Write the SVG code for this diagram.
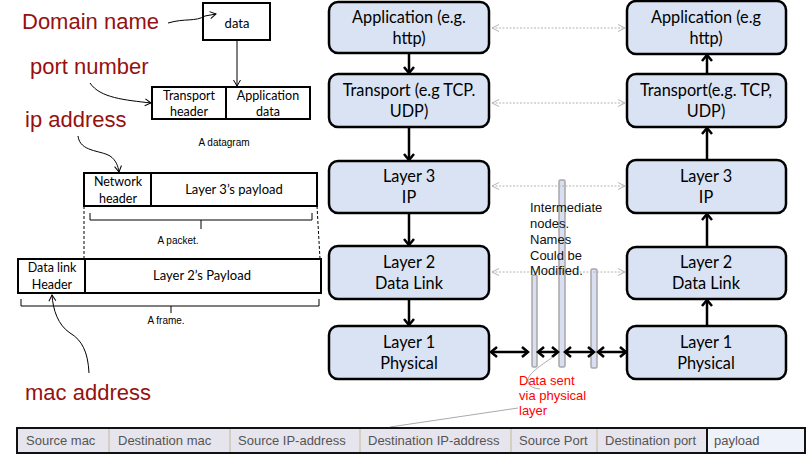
<svg xmlns="http://www.w3.org/2000/svg" width="811" height="472" viewBox="0 0 811 472">
<style>
.lbl{font-family:"Liberation Sans",Arial,sans-serif;font-size:22px;fill:#961010}
.cal{font-family:Lato,"Open Sans",sans-serif;fill:#000}
.st{font-size:16.3px;text-anchor:middle}
.sm{font-size:12.5px;text-anchor:middle}
.tiny{font-family:"Liberation Sans",Arial,sans-serif;font-size:10px;text-anchor:middle;fill:#000}
.box{fill:#dae3f3;stroke:#000;stroke-width:2.5}
.wb{fill:#fff;stroke:#000;stroke-width:2}
.thin{fill:none;stroke:#000;stroke-width:1}
.bar{fill:#d9dff0;stroke:#a8a8a8;stroke-width:1.5}
.cell{fill:#e6e4ec;stroke:#c8b898;stroke-width:1}
.ct{font-family:"Liberation Sans",Arial,sans-serif;font-size:13px;fill:#555}
.flow{stroke:#000;stroke-width:2.5;fill:none}
.peer{stroke:#b4b4b4;stroke-width:1;stroke-dasharray:2 1.5;fill:none}
.note{font-family:"Liberation Sans",Arial,sans-serif;font-size:13px;fill:#111}
.red{font-family:"Liberation Sans",Arial,sans-serif;font-size:13px;fill:#ff0000}
</style>
<defs>
<marker id="ah" markerWidth="12" markerHeight="12" refX="7" refY="6" orient="auto-start-reverse" markerUnits="userSpaceOnUse">
<path d="M1,1 L7,6 L1,11" fill="none" stroke="#000" stroke-width="2.5"/>
</marker>
<marker id="ahs" markerWidth="10" markerHeight="10" refX="7" refY="4" orient="auto-start-reverse" markerUnits="userSpaceOnUse">
<path d="M1,0.5 L7,4 L1,7.5" fill="none" stroke="#000" stroke-width="1"/>
</marker>
<marker id="ahg" markerWidth="10" markerHeight="10" refX="8" refY="4" orient="auto-start-reverse" markerUnits="userSpaceOnUse">
<path d="M1,0.5 L8,4 L1,7.5" fill="none" stroke="#b4b4b4" stroke-width="1"/>
</marker>
</defs>

<!-- left labels -->
<text class="lbl" x="22" y="29">Domain name</text>
<text class="lbl" x="30" y="74">port number</text>
<text class="lbl" x="25" y="127">ip address</text>
<text class="lbl" x="25" y="400">mac address</text>

<g id="datagram">
<rect class="wb" x="203" y="3" width="67" height="37"/>
<text class="cal sm" x="237" y="28" style="font-size:13px">data</text>
<rect class="wb" x="152" y="87" width="158" height="32"/>
<line x1="226" y1="87" x2="226" y2="119" stroke="#000" stroke-width="2"/>
<text class="cal sm" x="189" y="100">Transport</text>
<text class="cal sm" x="189" y="116">header</text>
<text class="cal sm" x="268" y="100">Application</text>
<text class="cal sm" x="268" y="116">data</text>
<text class="tiny" x="224" y="146">A datagram</text>
</g>

<g id="packet">
<rect class="wb" x="84" y="173" width="233" height="33"/>
<line x1="151" y1="173" x2="151" y2="206" stroke="#000" stroke-width="2"/>
<text class="cal sm" x="118" y="186">Network</text>
<text class="cal sm" x="118" y="203">header</text>
<text class="cal sm" x="234" y="194" style="font-size:13px">Layer 3’s payload</text>
<path class="thin" d="M90,213 V220 H312 V213 M201,220 V229"/>
<text class="tiny" x="178" y="244">A packet.</text>
</g>

<g id="frame">
<path d="M84,206 V259 M317,206 L320,259" stroke="#000" stroke-width="1" stroke-dasharray="3 2" fill="none"/>
<rect class="wb" x="18" y="259" width="303" height="34"/>
<line x1="85" y1="259" x2="85" y2="293" stroke="#000" stroke-width="2"/>
<text class="cal sm" x="52" y="272">Data link</text>
<text class="cal sm" x="52" y="289">Header</text>
<text class="cal sm" x="202" y="280" style="font-size:13px">Layer 2’s Payload</text>
<path class="thin" d="M21,299 V306 H319 V299 M171,306 V313"/>
<text class="tiny" x="166" y="324">A frame.</text>
</g>

<g id="annot-arrows">
<path class="thin" d="M168,23 C185,18 195,22 205,16 L216,14" marker-end="url(#ahs)"/>
<line class="thin" x1="237" y1="40" x2="237" y2="86" marker-end="url(#ahs)"/>
<path class="thin" d="M90,83 C100,98 125,100 151,103" marker-end="url(#ahs)"/>
<path class="thin" d="M78,136 C80,152 100,150 110,156 C116,160 118,166 119,172" marker-end="url(#ahs)"/>
<path class="thin" d="M89,373 C88,352 82,340 70,333 C58,325 53,310 52,295" marker-end="url(#ahs)"/>
</g>

<!-- left stack -->
<g id="app-l"><rect class="box" x="329" y="2" width="160" height="51" rx="9"/>
<text class="cal st" x="409" y="23">Application (e.g.</text><text class="cal st" x="409" y="44">http)</text></g>
<g id="tr-l"><rect class="box" x="329" y="74" width="160" height="53" rx="9"/>
<text class="cal st" x="409" y="96">Transport (e.g TCP.</text><text class="cal st" x="409" y="117">UDP)</text></g>
<g id="l3-l"><rect class="box" x="329" y="161" width="160" height="52" rx="9"/>
<text class="cal st" x="409" y="182">Layer 3</text><text class="cal st" x="409" y="203">IP</text></g>
<g id="l2-l"><rect class="box" x="329" y="246" width="160" height="53" rx="9"/>
<text class="cal st" x="409" y="268">Layer 2</text><text class="cal st" x="409" y="289">Data Link</text></g>
<g id="l1-l"><rect class="box" x="329" y="326" width="160" height="53" rx="9"/>
<text class="cal st" x="409" y="348">Layer 1</text><text class="cal st" x="409" y="369">Physical</text></g>

<!-- right stack -->
<g id="app-r"><rect class="box" x="627" y="1" width="159" height="53" rx="9"/>
<text class="cal st" x="706" y="23">Application (e.g</text><text class="cal st" x="706" y="44">http)</text></g>
<g id="tr-r"><rect class="box" x="627" y="74" width="159" height="53" rx="9"/>
<text class="cal st" x="706" y="96">Transport(e.g. TCP,</text><text class="cal st" x="706" y="117">UDP)</text></g>
<g id="l3-r"><rect class="box" x="627" y="160" width="159" height="53" rx="9"/>
<text class="cal st" x="706" y="182">Layer 3</text><text class="cal st" x="706" y="203">IP</text></g>
<g id="l2-r"><rect class="box" x="627" y="247" width="159" height="52" rx="9"/>
<text class="cal st" x="706" y="268">Layer 2</text><text class="cal st" x="706" y="289">Data Link</text></g>
<g id="l1-r"><rect class="box" x="627" y="326" width="159" height="53" rx="9"/>
<text class="cal st" x="706" y="348">Layer 1</text><text class="cal st" x="706" y="369">Physical</text></g>

<!-- intermediate nodes -->
<g id="nodes">
<rect class="bar" x="532" y="275" width="5" height="92" rx="1.5"/>
<rect class="bar" x="559" y="180" width="6" height="187" rx="1.5"/>
<rect class="bar" x="591" y="269" width="6" height="99" rx="1.5"/>
</g>

<g id="connectors">
<line class="flow" x1="409" y1="53" x2="409" y2="73" marker-end="url(#ah)"/>
<line class="flow" x1="409" y1="127" x2="409" y2="160" marker-end="url(#ah)"/>
<line class="flow" x1="409" y1="213" x2="409" y2="245" marker-end="url(#ah)"/>
<line class="flow" x1="409" y1="299" x2="409" y2="325" marker-end="url(#ah)"/>
<line class="flow" x1="707" y1="326" x2="707" y2="300" marker-end="url(#ah)"/>
<line class="flow" x1="707" y1="247" x2="707" y2="214" marker-end="url(#ah)"/>
<line class="flow" x1="707" y1="160" x2="707" y2="128" marker-end="url(#ah)"/>
<line class="flow" x1="707" y1="74" x2="707" y2="55" marker-end="url(#ah)"/>
<line class="peer" x1="492" y1="28" x2="625" y2="28" marker-start="url(#ahg)" marker-end="url(#ahg)"/>
<line class="peer" x1="492" y1="103" x2="625" y2="103" marker-start="url(#ahg)" marker-end="url(#ahg)"/>
<line class="peer" x1="492" y1="186" x2="625" y2="186" marker-start="url(#ahg)" marker-end="url(#ahg)"/>
<line class="peer" x1="492" y1="272" x2="625" y2="272" marker-start="url(#ahg)" marker-end="url(#ahg)"/>
<line class="flow" x1="491" y1="352" x2="528" y2="352" marker-start="url(#ah)" marker-end="url(#ah)"/>
<line class="flow" x1="538" y1="352" x2="558" y2="352" marker-start="url(#ah)" marker-end="url(#ah)"/>
<line class="flow" x1="565" y1="352" x2="594" y2="352" marker-start="url(#ah)" marker-end="url(#ah)"/>
<line class="flow" x1="598" y1="352" x2="626" y2="352" marker-start="url(#ah)" marker-end="url(#ah)"/>
<path d="M553,357 C540,366 528,374 528,380 C528,386 532,388 540,389" fill="none" stroke="#aaa" stroke-width="1"/>
<line x1="390" y1="427" x2="518" y2="408" stroke="#aaa" stroke-width="1"/>
</g>

<g id="notes">
<text class="note" x="530" y="212">Intermediate</text>
<text class="note" x="530" y="228">nodes.</text>
<text class="note" x="530" y="244">Names</text>
<text class="note" x="530" y="260">Could be</text>
<text class="note" x="530" y="275">Modified.</text>
<text class="red" x="519" y="385">Data sent</text>
<text class="red" x="519" y="400">via physical</text>
<text class="red" x="519" y="415">layer</text>
</g>

<g id="header-table">
<rect x="17" y="428" width="788" height="25" fill="#e6e4ec"/>
<line class="cell" x1="109" y1="429" x2="109" y2="452"/>
<line class="cell" x1="230" y1="429" x2="230" y2="452"/>
<line class="cell" x1="360" y1="429" x2="360" y2="452"/>
<line class="cell" x1="511" y1="429" x2="511" y2="452"/>
<line class="cell" x1="597" y1="429" x2="597" y2="452"/>
<rect x="17" y="428" width="788" height="25" fill="none" stroke="#111" stroke-width="2"/>
<rect x="707" y="428" width="98" height="25" fill="#eef2fb" stroke="#111" stroke-width="2"/>
<text class="ct" x="26" y="445">Source mac</text>
<text class="ct" x="118" y="445">Destination mac</text>
<text class="ct" x="238" y="445">Source IP-address</text>
<text class="ct" x="368" y="445">Destination IP-address</text>
<text class="ct" x="519" y="445">Source Port</text>
<text class="ct" x="605" y="445">Destination port</text>
<text class="ct" x="714" y="445">payload</text>
</g>
</svg>
